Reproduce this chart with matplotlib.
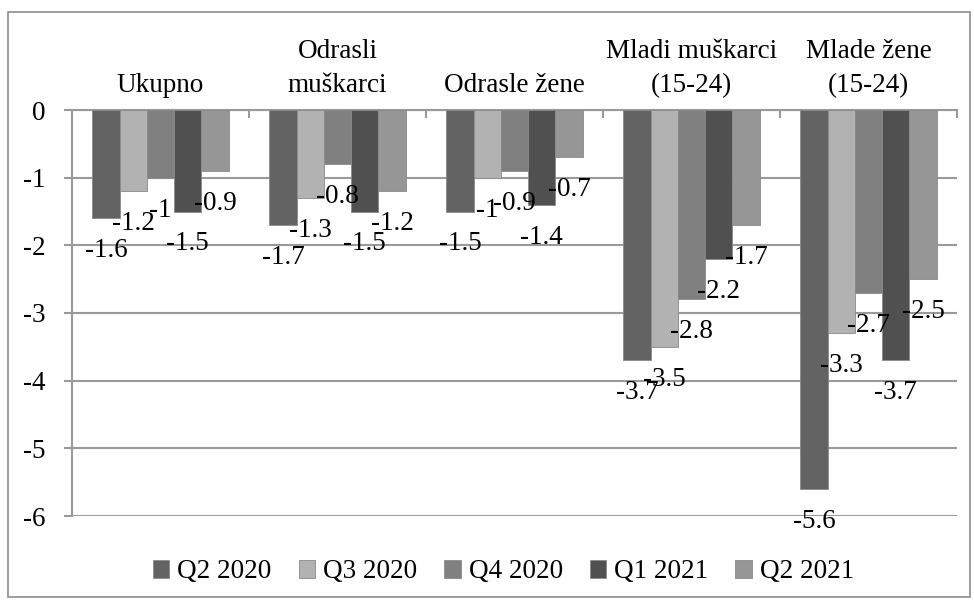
import numpy as np
import matplotlib
matplotlib.use("Agg")
import matplotlib.pyplot as plt
from matplotlib.patches import Rectangle

plt.rcParams['font.family'] = ['Liberation Serif', 'DejaVu Serif']
plt.rcParams['axes.unicode_minus'] = False

# === data ===
categories = ["Ukupno", "Odrasli\nmuškarci", "Odrasle žene", "Mladi muškarci\n(15-24)", "Mlade žene\n(15-24)"]
series_names = ["Q2 2020", "Q3 2020", "Q4 2020", "Q1 2021", "Q2 2021"]
q2_2020 = [-1.6, -1.7, -1.5, -3.7, -5.6]
q3_2020 = [-1.2, -1.3, -1.0, -3.5, -3.3]
q4_2020 = [-1.0, -0.8, -0.9, -2.8, -2.7]
q1_2021 = [-1.5, -1.5, -1.4, -2.2, -3.7]
q2_2021 = [-0.9, -1.2, -0.7, -1.7, -2.5]
yticks = [0, -1, -2, -3, -4, -5, -6]

series = [q2_2020, q3_2020, q4_2020, q1_2021, q2_2021]
colors = ['#636363', '#b2b2b2', '#808080', '#505050', '#969696']
grid_c = '#9a9a9a'
fs = 19.5

fig = plt.figure(figsize=(9.74, 6.0), dpi=100)
ax = fig.add_axes([72 / 974, 1 - 516 / 600, 885 / 974, 406 / 600])

# outer chart border
fig.patches.append(Rectangle((8 / 974, 3 / 600), 962 / 974, 585 / 600, transform=fig.transFigure,
                             fill=False, edgecolor='#8c8c8c', linewidth=1.2))

n = len(series)
w = 0.154
x = np.arange(len(categories)) + 0.5
for i, (vals, c, name) in enumerate(zip(series, colors, series_names)):
    xs = x + (i - (n - 1) / 2) * w
    ax.bar(xs, vals, width=w, color=c, edgecolor='#8a8a8a', linewidth=0.6, label=name, zorder=3)
    for xx, v in zip(xs, vals):
        ax.annotate(f"{v:g}", (xx, v), xytext=(0, -20), textcoords='offset pixels',
                    ha='center', va='top', fontsize=fs, zorder=5)

ax.set_xlim(0, len(categories))
ax.set_ylim(-6, 0)
ax.set_yticks(yticks)
ax.set_yticklabels([f"{t:g}" for t in yticks], fontsize=fs)
ax.yaxis.grid(True, color=grid_c, linewidth=1.5, zorder=0)
for s in ['right', 'bottom']:
    ax.spines[s].set_visible(False)
for s in ['left', 'top']:
    ax.spines[s].set_color(grid_c)
    ax.spines[s].set_linewidth(1.5)
ax.tick_params(axis='y', length=6, width=1.5, color=grid_c, pad=13)

# category labels above zero line, boundary ticks pointing down
ax.xaxis.tick_top()
ax.set_xticks(x)
ax.set_xticklabels([])
ax.set_xticks(np.arange(1, len(categories) + 1), minor=True)
ax.tick_params(axis='x', which='major', length=0)
ax.tick_params(axis='x', which='minor', direction='in', length=6, width=1.5, color=grid_c)
for xx, lab in zip(x, categories):
    ax.annotate(lab, (xx, 0), xytext=(0, 12), textcoords='offset pixels',
                ha='center', va='bottom', fontsize=fs, linespacing=1.45, annotation_clip=False)

leg = fig.legend(loc='center', bbox_to_anchor=(0.517, 1 - 572 / 600), ncol=5, frameon=False,
                 fontsize=fs, handlelength=0.6, handleheight=0.6, handletextpad=0.3, columnspacing=1.0)

fig.savefig("out.png", dpi=100)
